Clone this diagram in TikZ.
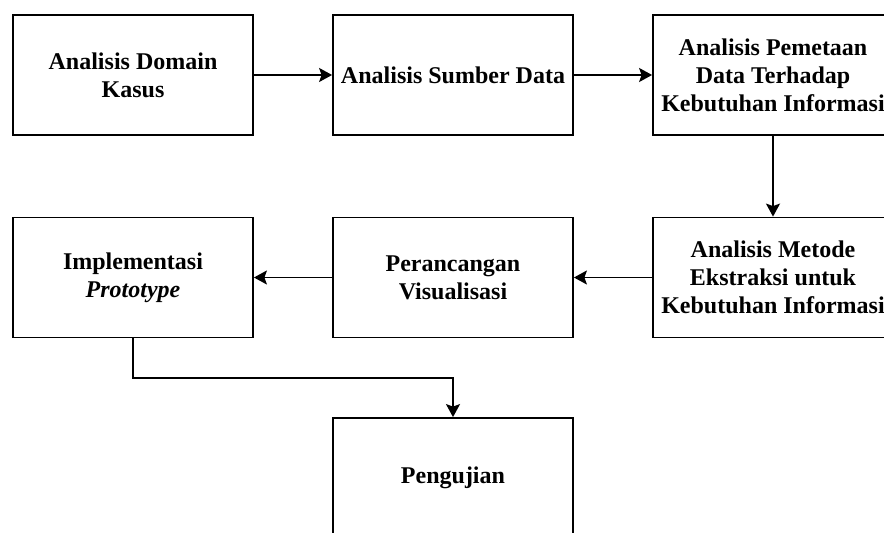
\documentclass[tikz,border=0pt]{standalone}
\usepackage{fontspec}
\setmainfont{Liberation Serif}
\usetikzlibrary{arrows.meta}
\begin{document}
\begin{tikzpicture}[x=1bp,y=-1bp,
  stepbox/.style={draw=black, line width=1.8bp, minimum width=240bp, minimum height=120bp,
    inner sep=0pt, align=center, font=\fontsize{24bp}{28bp}\selectfont\bfseries},
  conn/.style={line width=1.8bp, -{Stealth[length=13bp,width=14bp,inset=2.5bp]}}]
\useasboundingbox (0,0) rectangle (884,533);
\clip (0,0) rectangle (884,533);
\node[stepbox] (b1) at (133,75) {Analisis Domain\\Kasus};
\node[stepbox] (b2) at (453,75) {Analisis Sumber Data};
\node[stepbox] (b3) at (773,75) {Analisis Pemetaan\\Data Terhadap\\Kebutuhan Informasi};
\node[stepbox] (b4) at (773,277.5) {Analisis Metode\\Ekstraksi untuk\\Kebutuhan Informasi};
\node[stepbox] (b5) at (453,277.5) {Perancangan\\Visualisasi};
\node[stepbox] (b6) at (133,277.5) {Implementasi\\\textit{Prototype}};
\node[stepbox] (b7) at (453,478) {Pengujian};
\coordinate (k1) at (133,378);
\coordinate (k2) at (453,378);
\draw[conn] (b1.east) -- (b2.west);
\draw[conn] (b2.east) -- (b3.west);
\draw[conn] (b3.south) -- (b4.north);
\draw[conn] (b4.west) -- (b5.east);
\draw[conn] (b5.west) -- (b6.east);
\draw[conn] (b6.south) -- (k1) -- (k2) -- (b7.north);
\end{tikzpicture}
\end{document}
